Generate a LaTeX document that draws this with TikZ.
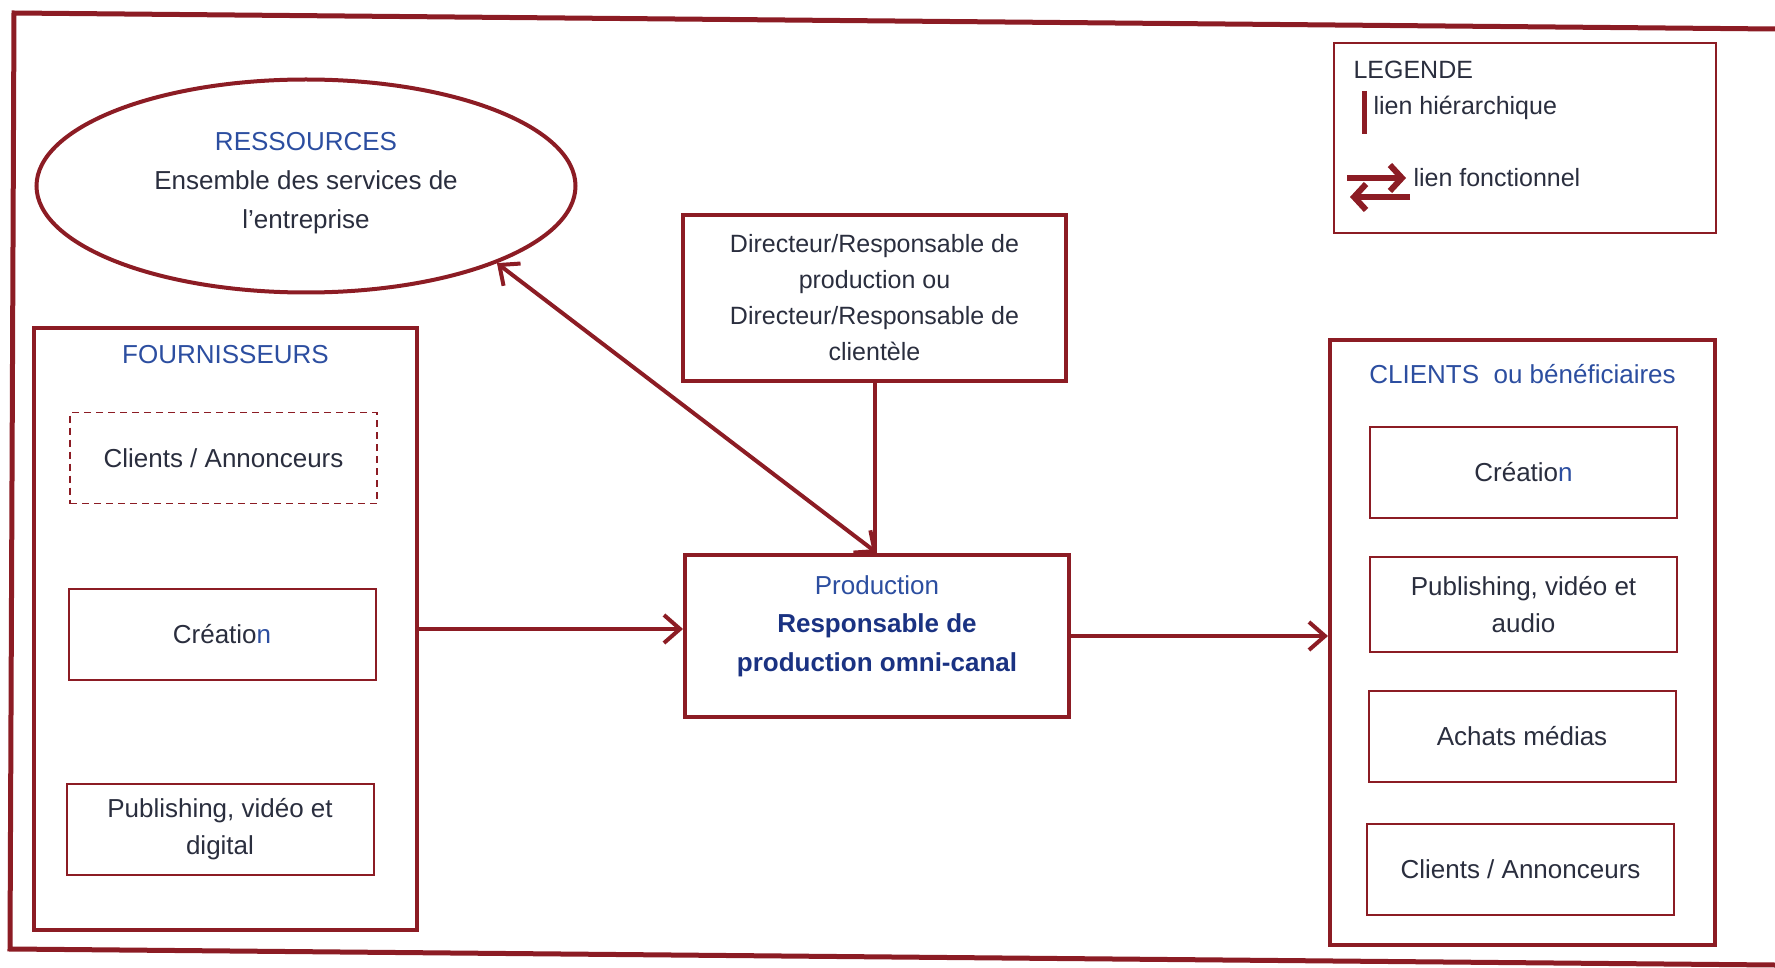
\documentclass[tikz,border=0pt]{standalone}
\usepackage{fontspec}
\setmainfont{Liberation Sans}
\usetikzlibrary{arrows.meta,shapes.geometric,calc}
\definecolor{wine}{RGB}{140,28,36}
\definecolor{titleblue}{RGB}{44,78,160}
\definecolor{textdark}{RGB}{42,46,62}
\definecolor{boldblue}{RGB}{26,50,130}
\begin{document}
\begin{tikzpicture}[x=1pt,y=-1pt,
  txt/.style={font={\fontsize{26}{37}\selectfont}, text=textdark, align=center},
  bigbox/.style={draw=wine, line width=4pt, inner sep=0pt, txt},
  smallbox/.style={draw=wine, line width=2pt, inner sep=0pt, txt, minimum width=307pt, minimum height=91pt},
  dashbox/.style={draw=wine, line width=1.6pt, dashed, dash pattern=on 7pt off 5pt, inner sep=0pt, txt, minimum width=307pt, minimum height=91pt},
  titletxt/.style={txt, text=titleblue},
  link/.style={draw=wine, line width=4pt},
  fn/.style={link, -{Straight Barb[length=16pt,width=28pt]}},
  fn2/.style={link, {Straight Barb[length=16pt,width=28pt]}-{Straight Barb[length=16pt,width=28pt]}}
]
\useasboundingbox (0,0) rectangle (1775,968);
% outer frame (scanned, slightly rotated)
\draw[draw=wine, line width=5pt] (1775,29) -- (14,13) -- (10,949) -- (1775,965);

% resources ellipse
\node[ellipse, draw=wine, line width=4pt, minimum width=539pt, minimum height=213pt, inner sep=0pt] (ress) at (306,186) {};
\node[txt, font={\fontsize{26}{39}\selectfont}] (ressT) at (306,183)
  {{\color{titleblue}RESSOURCES}\\Ensemble des services de\\l’entreprise};

% director and production
\node[bigbox, minimum width=383pt, minimum height=166pt, font={\fontsize{25}{36}\selectfont}] (dir) at (874.5,298)
  {Directeur/Responsable de\\production ou\\Directeur/Responsable de\\clientèle};
\node[bigbox, minimum width=384pt, minimum height=162pt] (prod) at (877,636) {};
\node[txt, font={\fontsize{26}{38.5}\selectfont}] (prodT) at (877,626)
  {{\color{titleblue}Production}\\{\bfseries\color{boldblue}Responsable de}\\{\bfseries\color{boldblue}production omni-canal}};

% fournisseurs
\node[bigbox, minimum width=383pt, minimum height=602pt] (four) at (225.5,629) {};
\node[titletxt] (fourT) at (225.5,355) {FOURNISSEURS};
\node[dashbox] (fca) at (223.5,458) {Clients / Annonceurs};
\node[smallbox] (fcre) at (222,634) {Créatio{\color{titleblue}n}};
\node[smallbox] (fpub) at (220,829.5) {Publishing, vidéo et\\digital};

% clients
\node[bigbox, minimum width=385pt, minimum height=605pt] (cli) at (1522.5,642.5) {};
\node[titletxt] (cliT) at (1522.5,374) {CLIENTS\ \ ou bénéficiaires};
\node[smallbox] (ccre) at (1523.5,472) {Créatio{\color{titleblue}n}};
\node[smallbox, minimum height=95pt] (cpub) at (1523.5,604.5) {Publishing, vidéo et\\audio};
\node[smallbox] (cach) at (1522,736) {Achats médias};
\node[smallbox] (cca) at (1520.5,869.5) {Clients / Annonceurs};

% legend
\node[draw=wine, line width=2pt, minimum width=382pt, minimum height=190pt, inner sep=0pt] (leg) at (1525,138) {};
\node[txt, anchor=west, font={\fontsize{25}{30}\selectfont}] (legT) at (1350,70) {LEGENDE};
\node[txt, anchor=west, font={\fontsize{25}{30}\selectfont}] (legH) at (1370,108) {lien hiérarchique};
\node[txt, anchor=west, font={\fontsize{25}{30}\selectfont}] (legF) at (1410,178) {lien fonctionnel};
\coordinate (hbA) at (1364,91);
\coordinate (hbB) at (1364,134);
\draw[draw=wine, line width=5pt] (hbA) -- (hbB);
\coordinate (faA) at (1347,178);
\coordinate (faB) at (1406,178);
\coordinate (fbA) at (1410,197);
\coordinate (fbB) at (1350,197);
\draw[draw=wine, line width=6pt, -{Straight Barb[length=12pt,width=26pt]}] (faA) -- (faB);
\draw[draw=wine, line width=6pt, -{Straight Barb[length=12pt,width=26pt]}] (fbA) -- (fbB);

% connectors
\draw[link] (dir.south) -- (dir.south |- prod.north);
\draw[fn2] (ress.-22) -- (prod.north);
\draw[fn] (four.east) -- (four.east -| prod.west);
\draw[fn] (prod.east) -- (prod.east -| cli.west);
\end{tikzpicture}
\end{document}
